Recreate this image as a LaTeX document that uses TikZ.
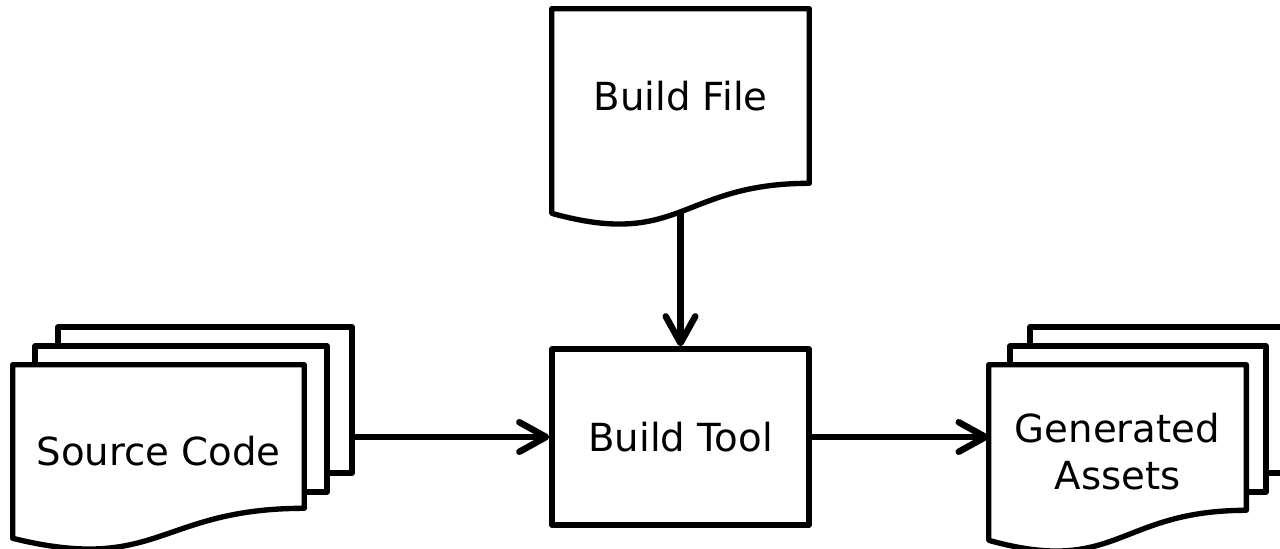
\documentclass[tikz,border=0pt]{standalone}
\usepackage{fontspec}
\setmainfont{DejaVu Sans}
\usepackage{tikz}
\usetikzlibrary{calc,arrows.meta}

\tikzset{
  outline/.style={draw, line width=3.8pt, line join=round, fill=white},
  sheet/.style={outline, rectangle, inner sep=0pt},
  page/.style={rectangle, inner sep=0pt},
  txt/.style={font=\fontsize{27.5}{33}\selectfont, align=center},
  flow/.style={line width=4.6pt, -{Straight Barb[length=19pt,width=21pt,round]}}
}
% document sheet with wavy lower edge, drawn round an empty node
\newcommand{\docpage}[1]{%
  \path[outline] (#1.north west) -- (#1.north east) -- (#1.south east)
    .. controls (#1.south) and ($(#1.south)+(0,-66)$) .. ($(#1.south west)+(0,-30)$) -- cycle;}

\begin{document}
\begin{tikzpicture}[x=0.025cm,y=0.025cm]
  \useasboundingbox (0,0) rectangle (1280,548);
  \clip (0,0) rectangle (1280,548);

  % build file
  \node[page, minimum width=6.425cm, minimum height=4.35cm] (bfile) at (680.5,452) {};
  \docpage{bfile}
  \node[txt] (bfiletext) at (bfile.center) {Build File};

  % build tool
  \node[sheet, txt, minimum width=6.425cm, minimum height=4.4cm] (tool) at (680.5,111) {Build Tool};

  % source code stack
  \node[sheet, minimum width=7.35cm, minimum height=3.65cm] (src3) at (205,148) {};
  \node[sheet, minimum width=7.3cm, minimum height=3.65cm] (src2) at (181,129) {};
  \node[page, minimum width=7.275cm, minimum height=3.575cm] (src1) at (158.5,111.5) {};
  \docpage{src1}
  \node[txt] (srctext) at ($(src1.center)+(0,-15)$) {Source Code};

  % generated assets stack
  \node[sheet, minimum width=6.45cm, minimum height=3.65cm] (gen3) at (1159,148) {};
  \node[sheet, minimum width=6.4cm, minimum height=3.65cm] (gen2) at (1138,129) {};
  \node[page, minimum width=6.425cm, minimum height=3.625cm] (gen1) at (1117.5,110.5) {};
  \docpage{gen1}
  \node[txt] (gentext) at ($(gen1.center)+(0,-14)$) {Generated\\Assets};

  \draw[flow] ($(bfile.south)+(0,-28)$) -- (tool.north);
  \draw[flow] (src3.east |- tool.west) -- (tool.west);
  \draw[flow] (tool.east) -- (tool.east -| gen1.west);
\end{tikzpicture}
\end{document}
